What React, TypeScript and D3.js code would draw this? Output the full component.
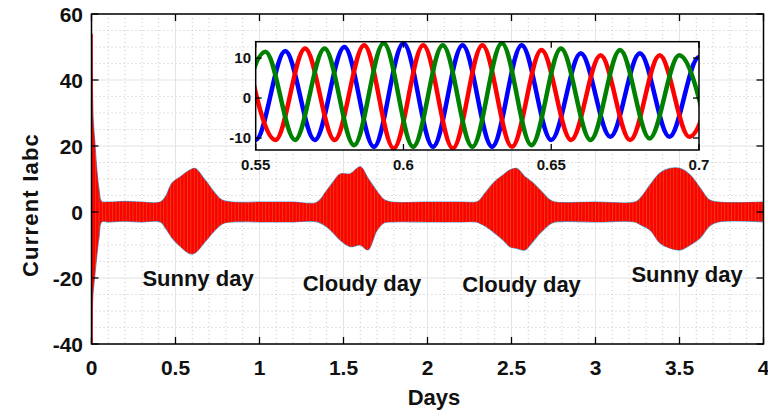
import React from 'react';
import * as d3 from 'd3';

const width = 768;
const height = 416;

// main axes box
const plot = {left: 91.5, right: 763.5, top: 14, bottom: 344};
// inset box
const inset = {left: 255.7, right: 699, top: 41.7, bottom: 150};

const xTicks = [0, 0.5, 1, 1.5, 2, 2.5, 3, 3.5, 4];
const yTicks = [-40, -20, 0, 20, 40, 60];
const insetXTicks = [0.55, 0.6, 0.65, 0.7];
const insetYTicks = [-10, 0, 10];

// envelope of the three phase currents over the 4 days
const envDays = [0, 0.004, 0.01, 0.02, 0.033, 0.045, 0.06, 0.1, 0.2, 0.3, 0.41, 0.44, 0.48, 0.53, 0.586, 0.616, 0.676, 0.735, 0.777, 0.836, 1.0, 1.2, 1.34, 1.4, 1.44, 1.48, 1.54, 1.6, 1.645, 1.7, 1.745, 1.79, 2.0, 2.2, 2.29, 2.31, 2.35, 2.4, 2.45, 2.49, 2.53, 2.58, 2.62, 2.67, 2.73, 2.76, 3.0, 3.235, 3.265, 3.325, 3.384, 3.444, 3.503, 3.563, 3.622, 3.68, 3.73, 4.0];
const envUpper = [54, 42, 28, 21, 12, 6.7, 3.2, 3, 3.2, 3, 3, 4.6, 8.8, 10.7, 12.7, 13.2, 9.7, 5.7, 3.6, 3, 3, 3, 2.9, 6.5, 9.2, 11.5, 11.6, 13.7, 10.3, 6.2, 3.6, 3, 3, 3, 3, 3.6, 6.2, 9.2, 11.2, 12.7, 13.2, 10.7, 9.2, 6.7, 3.6, 3, 3, 3, 4.1, 8.2, 11.8, 13.2, 13.2, 11.2, 7.3, 3.6, 3, 3];
const envLower = [-40, -30, -24, -19, -12.5, -7.5, -3, -3, -2.8, -3, -3, -4.8, -7.9, -10.5, -12.6, -12.4, -9, -5.5, -3.6, -3, -3, -3, -2.9, -4.5, -6.4, -8.5, -10.5, -10, -11.5, -5.5, -3.2, -3, -3, -3, -3, -3.4, -4.5, -6.4, -8.5, -10.5, -11, -11.5, -9.4, -6.4, -3.6, -3, -3, -3, -3.8, -5.5, -9.4, -11, -11.5, -10, -7.9, -4.2, -3, -3];

// inset: peaks and troughs of each phase
const phaseA: [number, number][] = [[0.54, 11.5], [0.55, -10.5], [0.56, 11.8], [0.57, -10.5], [0.58, 12.8], [0.59, -12.2], [0.6, 13.7], [0.61, -12.2], [0.62, 13.2], [0.63, -12.2], [0.64, 13.2], [0.65, -10.5], [0.66, 11.2], [0.67, -9.7], [0.68, 11.2], [0.69, -9.7], [0.7, 10.3], [0.71, -9.7]];
const phaseB: [number, number][] = [[0.5467, 12], [0.5567, -10.5], [0.5667, 12.4], [0.5767, -10.5], [0.5867, 13.2], [0.5967, -12.6], [0.6067, 13.2], [0.6167, -12.6], [0.6267, 13.2], [0.6367, -12.2], [0.6467, 12], [0.6567, -10.5], [0.6667, 10.7], [0.6767, -10.5], [0.6867, 10.7], [0.6967, -9.7], [0.7067, 10.5]];
const phaseC: [number, number][] = [[0.5433, -10], [0.5533, 11.6], [0.5633, -10.5], [0.5733, 12.4], [0.5833, -11.8], [0.5933, 13.7], [0.6033, -12.2], [0.6133, 13.2], [0.6233, -12.2], [0.6333, 13.7], [0.6433, -11.8], [0.6533, 12.4], [0.6633, -10.5], [0.6733, 12], [0.6833, -10.1], [0.6933, 10.7], [0.7033, -10]];

const dayLabels = ['Sunny day', 'Cloudy day', 'Cloudy day', 'Sunny day'];
const dayLabelAt = [0.634, 1.61, 2.56, 3.545];
const dayLabelLevel = [-22.4, -23.9, -24.2, -21.2];

const font = '"Liberation Sans", Arial, Helvetica, sans-serif';

const App = () => {
    const x = d3.scaleLinear().domain([0, 4]).range([plot.left, plot.right]);
    const y = d3.scaleLinear().domain([-40, 60]).range([plot.bottom, plot.top]);
    const ix = d3.scaleLinear().domain([0.55, 0.7]).range([inset.left, inset.right]);
    const iy = d3.scaleLinear().domain([-13, 14.1]).range([inset.bottom, inset.top]);

    const env = envDays.map((d, i) => ({d, hi: envUpper[i], lo: envLower[i]}));
    const area = d3.area<any>()
        .x(p => x(p.d))
        .y0(p => y(p.lo))
        .y1(p => y(p.hi))
        .curve(d3.curveCatmullRom.alpha(0.5));

    const wave = d3.line<[number, number]>()
        .x(p => ix(p[0]))
        .y(p => iy(p[1]))
        .curve(d3.curveMonotoneX);

    const minorX = d3.range(0, 41).map(i => i / 10).filter(v => !xTicks.includes(v));
    const minorY = d3.range(-40, 61, 5).filter(v => !yTicks.includes(v));

    const tk = 7;

    return (
        <svg width={width} height={height} style={{position: 'absolute', left: 0, top: 0, background: '#fff'}}
             fontFamily={font} fontWeight="bold">
            <defs>
                <clipPath id="plotClip">
                    <rect x={plot.left} y={plot.top} width={plot.right - plot.left} height={plot.bottom - plot.top}/>
                </clipPath>
                <clipPath id="insetClip">
                    <rect x={inset.left} y={inset.top} width={inset.right - inset.left} height={inset.bottom - inset.top}/>
                </clipPath>
                <pattern id="stripes" width="3.4" height="10" patternUnits="userSpaceOnUse">
                    <rect width="3.4" height="10" fill="#ff0000"/>
                    <rect width="0.9" height="10" fill="#d95319" opacity="0.8"/>
                </pattern>
            </defs>

            {/* grid */}
            <g>
                {minorX.map(v => <line key={'mx' + v} x1={x(v)} x2={x(v)} y1={plot.top} y2={plot.bottom}
                                       stroke="#c4c4c4" strokeWidth={1} strokeDasharray="1 3"/>)}
                {minorY.map(v => <line key={'my' + v} x1={plot.left} x2={plot.right} y1={y(v)} y2={y(v)}
                                       stroke="#c4c4c4" strokeWidth={1} strokeDasharray="1 3"/>)}
                {xTicks.map(v => <line key={'gx' + v} x1={x(v)} x2={x(v)} y1={plot.top} y2={plot.bottom}
                                       stroke="#e3e3e3" strokeWidth={1}/>)}
                {yTicks.map(v => <line key={'gy' + v} x1={plot.left} x2={plot.right} y1={y(v)} y2={y(v)}
                                       stroke="#e3e3e3" strokeWidth={1}/>)}
            </g>

            {/* currents */}
            <g clipPath="url(#plotClip)">
                <path d={area(env) || ''} fill="none" stroke="#0072bd" strokeWidth={1.2} opacity={0.7}/>
                <path d={area(env) || ''} fill="url(#stripes)"/>
                <line x1={x(0)} x2={x(0)} y1={y(54)} y2={y(-40)} stroke="#ff0000" strokeWidth={2.5}/>
            </g>

            {/* day labels */}
            {dayLabels.map((t, i) => (
                <text key={'dl' + i} x={x(dayLabelAt[i])} y={y(dayLabelLevel[i])} textAnchor="middle"
                      fontSize={22} fill="#111">{t}</text>
            ))}

            {/* axes box + ticks */}
            <rect x={plot.left} y={plot.top} width={plot.right - plot.left} height={plot.bottom - plot.top}
                  fill="none" stroke="#000" strokeWidth={1.5}/>
            {xTicks.map(v => (
                <g key={'xt' + v}>
                    <line x1={x(v)} x2={x(v)} y1={plot.bottom} y2={plot.bottom - tk} stroke="#000" strokeWidth={1.3}/>
                    <line x1={x(v)} x2={x(v)} y1={plot.top} y2={plot.top + tk} stroke="#000" strokeWidth={1.3}/>
                    <text x={x(v)} y={375} textAnchor="middle" fontSize={21} fill="#111">{String(v)}</text>
                </g>
            ))}
            {yTicks.map(v => (
                <g key={'yt' + v}>
                    <line x1={plot.left} x2={plot.left + tk} y1={y(v)} y2={y(v)} stroke="#000" strokeWidth={1.3}/>
                    <line x1={plot.right} x2={plot.right - tk} y1={y(v)} y2={y(v)} stroke="#000" strokeWidth={1.3}/>
                    <text x={83} y={y(v)} dy="0.36em" textAnchor="end" fontSize={21} fill="#111">{String(v)}</text>
                </g>
            ))}

            <text x={434} y={405} textAnchor="middle" fontSize={22} fill="#111">Days</text>
            <text transform={`translate(38, 205) rotate(-90)`} textAnchor="middle" fontSize={22}
                  letterSpacing={1.2} fill="#111">Current Iabc</text>

            {/* inset */}
            <rect x={inset.left} y={inset.top} width={inset.right - inset.left} height={inset.bottom - inset.top}
                  fill="#fff"/>
            <g clipPath="url(#insetClip)" fill="none" strokeWidth={4.5} strokeLinejoin="round">
                <path d={wave(phaseA) || ''} stroke="#0000ff"/>
                <path d={wave(phaseB) || ''} stroke="#ff0000"/>
                <path d={wave(phaseC) || ''} stroke="#008000"/>
            </g>
            <rect x={inset.left} y={inset.top} width={inset.right - inset.left} height={inset.bottom - inset.top}
                  fill="none" stroke="#000" strokeWidth={1.5}/>
            {insetXTicks.map(v => (
                <g key={'ixt' + v}>
                    <line x1={ix(v)} x2={ix(v)} y1={inset.bottom} y2={inset.bottom - 6} stroke="#000" strokeWidth={1.3}/>
                    <line x1={ix(v)} x2={ix(v)} y1={inset.top} y2={inset.top + 6} stroke="#000" strokeWidth={1.3}/>
                    <text x={ix(v)} y={170} textAnchor="middle" fontSize={15} fill="#111">{String(v)}</text>
                </g>
            ))}
            {insetYTicks.map(v => (
                <g key={'iyt' + v}>
                    <line x1={inset.left} x2={inset.left + 6} y1={iy(v)} y2={iy(v)} stroke="#000" strokeWidth={1.3}/>
                    <line x1={inset.right} x2={inset.right - 6} y1={iy(v)} y2={iy(v)} stroke="#000" strokeWidth={1.3}/>
                    <text x={251} y={iy(v)} dy="0.36em" textAnchor="end" fontSize={15} fill="#111">{String(v)}</text>
                </g>
            ))}
        </svg>
    );
};

export default App;
